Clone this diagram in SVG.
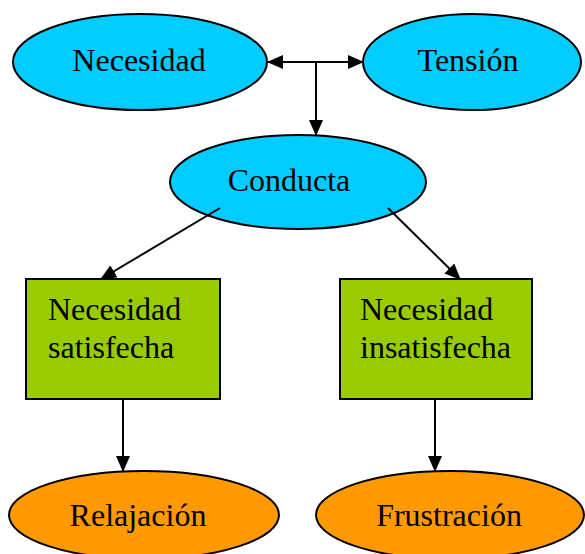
<svg xmlns="http://www.w3.org/2000/svg" width="585" height="554" viewBox="0 0 585 554">
<style>
.ell{stroke:#000;stroke-width:2}
.blue{fill:#00CCFF}
.org{fill:#FF9900}
.box{fill:#99CC00;stroke:#000;stroke-width:2}
.t{font-family:"Liberation Serif","Times New Roman",serif;font-size:32px;fill:#000}
.c{text-anchor:middle}
.ln{stroke:#000;stroke-width:2;fill:none}
</style>
<defs>
<marker id="ah" markerUnits="userSpaceOnUse" markerWidth="16" markerHeight="14" refX="15" refY="7" orient="auto">
<path d="M0,0 L16,7 L0,14 Z" fill="#000"/>
</marker>
<marker id="ahs" markerUnits="userSpaceOnUse" markerWidth="16" markerHeight="14" refX="1" refY="7" orient="auto">
<path d="M16,0 L0,7 L16,14 Z" fill="#000"/>
</marker>
</defs>
<g id="necesidad">
<ellipse class="ell blue" cx="140" cy="62" rx="127" ry="48"/>
<text class="t c" x="139" y="71">Necesidad</text>
</g>
<g id="tension">
<ellipse class="ell blue" cx="472" cy="62" rx="109" ry="48"/>
<text class="t c" x="468" y="71">Tensión</text>
</g>
<g id="conducta">
<ellipse class="ell blue" cx="298" cy="182" rx="128" ry="47"/>
<text class="t c" x="289" y="191">Conducta</text>
</g>
<g id="satisfecha">
<rect class="box" x="26" y="279" width="194" height="120"/>
<text class="t" x="48" y="320">Necesidad</text>
<text class="t" x="48" y="358">satisfecha</text>
</g>
<g id="insatisfecha">
<rect class="box" x="340" y="279" width="192" height="120"/>
<text class="t" x="360" y="320">Necesidad</text>
<text class="t" x="360" y="358">insatisfecha</text>
</g>
<g id="relajacion">
<ellipse class="ell org" cx="144" cy="515" rx="135" ry="44"/>
<text class="t c" x="138" y="526">Relajación</text>
</g>
<g id="frustracion">
<ellipse class="ell org" cx="450" cy="515" rx="134" ry="44"/>
<text class="t c" x="449" y="526">Frustración</text>
</g>
<g id="connectors">
<line class="ln" x1="268" y1="62" x2="363" y2="62" marker-start="url(#ahs)" marker-end="url(#ah)"/>
<line class="ln" x1="316" y1="62" x2="316" y2="135" marker-end="url(#ah)"/>
<line class="ln" x1="220" y1="208" x2="101" y2="279" marker-end="url(#ah)"/>
<line class="ln" x1="388" y1="208" x2="460" y2="279" marker-end="url(#ah)"/>
<line class="ln" x1="123" y1="399" x2="123" y2="471" marker-end="url(#ah)"/>
<line class="ln" x1="435" y1="399" x2="435" y2="471" marker-end="url(#ah)"/>
</g>
</svg>
